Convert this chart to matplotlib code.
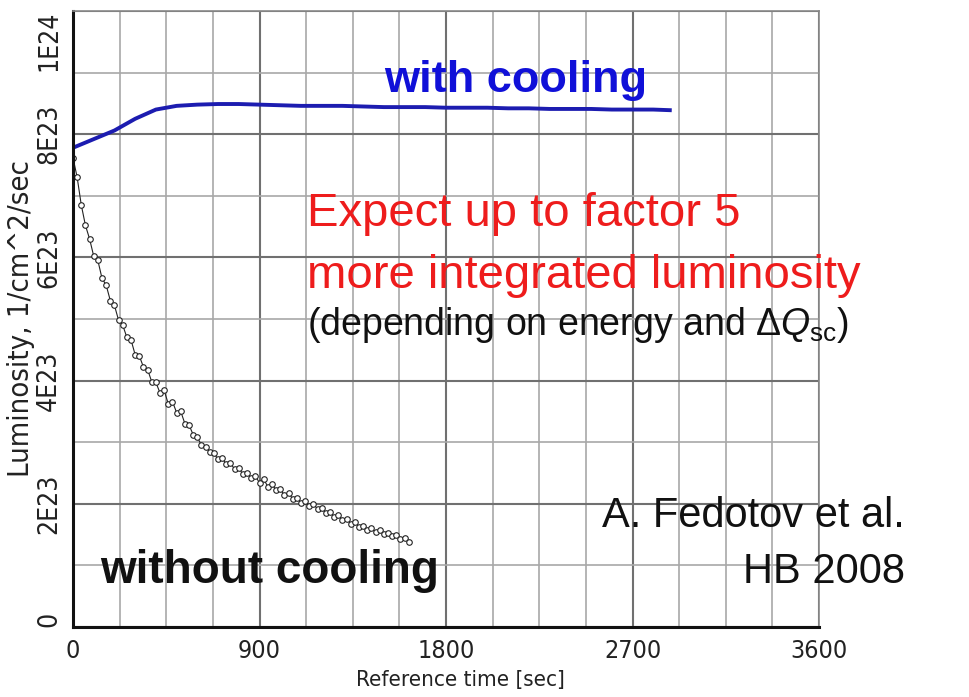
import matplotlib
matplotlib.use("Agg")
import matplotlib.pyplot as plt
from matplotlib import font_manager
from matplotlib.ticker import MultipleLocator

plt.rcParams["font.family"] = ["Liberation Sans", "DejaVu Sans"]
plt.rcParams["mathtext.fontset"] = "custom"
plt.rcParams["mathtext.rm"] = "Liberation Sans"
plt.rcParams["mathtext.it"] = "Liberation Sans:italic"

# with cooling (blue line)
t_cool = [0, 100, 200, 300, 400, 500, 600, 700, 800, 900, 1000, 1100, 1200,
          1300, 1400, 1500, 1600, 1700, 1800, 1900, 2000, 2100, 2200, 2300,
          2400, 2500, 2600, 2700, 2800, 2880]
lum_cool = [7.78, 7.92, 8.06, 8.25, 8.40, 8.46, 8.48, 8.49, 8.49, 8.48, 8.47,
            8.46, 8.46, 8.46, 8.45, 8.44, 8.44, 8.44, 8.43, 8.43, 8.43, 8.42,
            8.42, 8.41, 8.41, 8.41, 8.40, 8.40, 8.40, 8.39]

# without cooling (measured points)
t_nocool = [0, 20, 40, 60, 80, 100, 120, 140, 160, 180, 200, 220, 240, 260,
            280, 300, 320, 340, 360, 380, 400, 420, 440, 460, 480, 500, 520,
            540, 560, 580, 600, 620, 640, 660, 680, 700, 720, 740, 760, 780,
            800, 820, 840, 860, 880, 900, 920, 940, 960, 980, 1000, 1020, 1040,
            1060, 1080, 1100, 1120, 1140, 1160, 1180, 1200, 1220, 1240, 1260,
            1280, 1300, 1320, 1340, 1360, 1380, 1400, 1420, 1440, 1460, 1480,
            1500, 1520, 1540, 1560, 1580, 1600, 1620]
lum_nocool = [7.62, 7.30, 6.85, 6.52, 6.30, 6.02, 5.95, 5.66, 5.55, 5.30, 5.22,
              4.98, 4.90, 4.70, 4.66, 4.42, 4.40, 4.22, 4.18, 3.98, 3.97, 3.80,
              3.84, 3.62, 3.66, 3.48, 3.50, 3.30, 3.28, 3.12, 3.08, 2.95, 2.93,
              2.84, 2.82, 2.72, 2.74, 2.64, 2.66, 2.56, 2.58, 2.48, 2.50, 2.42,
              2.45, 2.34, 2.40, 2.28, 2.32, 2.22, 2.24, 2.14, 2.18, 2.08, 2.10,
              2.02, 2.04, 1.96, 1.99, 1.92, 1.93, 1.85, 1.87, 1.79, 1.82, 1.74,
              1.76, 1.68, 1.70, 1.63, 1.64, 1.58, 1.60, 1.54, 1.57, 1.51, 1.53,
              1.47, 1.49, 1.43, 1.44, 1.38]

x_ticks = [0, 900, 1800, 2700, 3600]
y_ticks = [0, 2e23, 4e23, 6e23, 8e23, 1e24]
y_ticklabels = ["0", "2E23", "4E23", "6E23", "8E23", "1E24"]

# narrow font for the axis texts if a condensed face is installed
cond = font_manager.FontProperties(family="DejaVu Sans", stretch="condensed")
if "ondensed" in font_manager.findfont(cond, fallback_to_default=False):
    axfont = dict(family="DejaVu Sans", stretch="condensed")
    tick_x, tick_y, lab_x, lab_y = 18, 19, 16, 21
else:
    axfont = dict(family="Liberation Sans")
    tick_x, tick_y, lab_x, lab_y = 18, 18, 16.5, 20

fig = plt.figure(figsize=(9.69, 6.97), dpi=100)
ax = fig.add_axes([73 / 969, 70 / 697, 746 / 969, 616 / 697])

ax.set_xlim(0, 3600)
ax.set_ylim(0, 1e24)

# grid
ax.xaxis.set_minor_locator(MultipleLocator(225))
ax.yaxis.set_minor_locator(MultipleLocator(1e23))
ax.grid(which="minor", color="#a8a8a8", lw=1.2)
ax.grid(which="major", color="#707070", lw=1.5)
ax.set_axisbelow(True)

ax.plot(t_cool, [v * 1e23 for v in lum_cool], color="#1c1cb0", lw=2.8)
ax.plot(t_nocool, [v * 1e23 for v in lum_nocool], color="#222222", lw=0.8,
        marker="o", ms=4, mfc="white", mec="#222222", mew=0.8)

ax.set_xticks(x_ticks)
ax.set_xticklabels([str(v) for v in x_ticks], fontsize=tick_x,
                   color="#222222", **axfont)
ax.set_yticks(y_ticks)
ax.set_yticklabels(y_ticklabels, fontsize=tick_y, rotation=90, va="center",
                   color="#222222", **axfont)
ylabs = ax.get_yticklabels()
ylabs[0].set_va("bottom")
ylabs[-1].set_va("top")
ax.tick_params(which="both", length=0)
ax.tick_params(axis="x", pad=9)
ax.tick_params(axis="y", pad=8)

ax.set_xlabel("Reference time [sec]", fontsize=lab_x, color="#222222",
              **axfont)
ax.xaxis.set_label_coords((460 - 73) / 746, -43 / 616)
ax.set_ylabel("Luminosity, 1/cm^2/sec", fontsize=lab_y, color="#222222",
              **axfont)
ax.yaxis.set_label_coords(-38 / 746, 0.5)

for s in ["left", "bottom"]:
    ax.spines[s].set_color("#111111")
    ax.spines[s].set_linewidth(2.2)
for s in ["top", "right"]:
    ax.spines[s].set_color("#888888")
    ax.spines[s].set_linewidth(1.2)


def ftext(x, y, s, **kw):
    fig.text(x / 969, 1 - y / 697, s, va="baseline", **kw)


ftext(384, 92, "with cooling", fontsize=32.5, weight="bold", color="#1010d8")
ftext(307, 226, "Expect up to factor 5", fontsize=34, color="#ee1c1c")
ftext(307, 288, "more integrated luminosity", fontsize=34, color="#ee1c1c")
ftext(307, 335, r"(depending on energy and $\Delta Q_{\rm sc}$)", fontsize=27,
      color="#111111")
ftext(905, 527, "A. Fedotov et al.", fontsize=30, ha="right", color="#111111")
ftext(905, 583, "HB 2008", fontsize=30, ha="right", color="#111111")
ftext(100, 583, "without cooling", fontsize=33, weight="bold",
      color="#111111")

fig.savefig("out.png", dpi=100)
